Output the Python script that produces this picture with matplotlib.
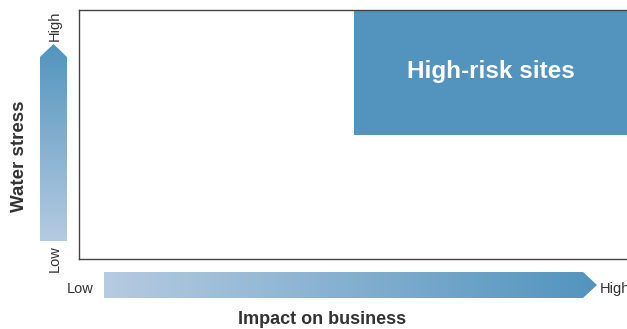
import numpy as np
import matplotlib.pyplot as plt
from matplotlib.patches import Polygon, Rectangle
from matplotlib.colors import LinearSegmentedColormap

plt.rcParams['font.family'] = ['Liberation Sans', 'DejaVu Sans']

# conceptual quadrant: x = impact on business, y = water stress
x_label = 'Impact on business'
y_label = 'Water stress'
axis_ends = ['Low', 'High']
zone_name = 'High-risk sites'
zone_x = [0.5, 1.0]
zone_y = [0.5, 1.0]

light = '#b6cbe1'
dark = '#5294be'
text_col = '#333333'

W, H = 627, 329
fig = plt.figure(figsize=(W / 100, H / 100), dpi=100)

# main quadrant axes (right edge runs just off the canvas)
ax = fig.add_axes([79 / W, (H - 259) / H, 550 / W, 249 / H])
ax.set_xlim(0, 1)
ax.set_ylim(0, 1)
ax.set_xticks([])
ax.set_yticks([])
for s in ax.spines.values():
    s.set_color('#444444')
    s.set_linewidth(1.0)
ax.add_patch(Rectangle((zone_x[0], zone_y[0]), zone_x[1] - zone_x[0], zone_y[1] - zone_y[0],
                       facecolor=dark, edgecolor='none'))
ax.text(0.749, 0.755, zone_name,
        color='white', fontsize=17.5, fontweight='bold', ha='center', va='center')

# overlay in pixel coordinates for the gradient arrows and labels
ov = fig.add_axes([0, 0, 1, 1])
ov.set_xlim(0, W)
ov.set_ylim(H, 0)
ov.axis('off')

cmap = LinearSegmentedColormap.from_list('grad', [light, dark])
grad = np.linspace(0, 1, 256)

# vertical arrow (low at bottom, high at top)
vpoly = Polygon([(40, 241), (40, 57), (53.5, 44), (67, 57), (67, 241)], closed=True,
                facecolor='none', edgecolor='none')
ov.add_patch(vpoly)
im = ov.imshow(grad[::-1].reshape(-1, 1), cmap=cmap, extent=(40, 67, 241, 44),
               aspect='auto', origin='upper')
im.set_clip_path(vpoly)

# horizontal arrow (low at left, high at right)
hpoly = Polygon([(104, 272), (583, 272), (597, 285), (583, 298), (104, 298)], closed=True,
                facecolor='none', edgecolor='none')
ov.add_patch(hpoly)
im2 = ov.imshow(grad.reshape(1, -1), cmap=cmap, extent=(104, 597, 298, 272), aspect='auto')
im2.set_clip_path(hpoly)

ov.set_xlim(0, W)
ov.set_ylim(H, 0)

ov.text(55, 26, axis_ends[1], rotation=90, ha='center', va='center', fontsize=10.5, color=text_col)
ov.text(55, 259, axis_ends[0], rotation=90, ha='center', va='center', fontsize=10.5, color=text_col)
ov.text(20, 156, y_label, rotation=90, ha='center', va='center', fontsize=13.5,
        fontweight='bold', color=text_col)
ov.text(80, 289, axis_ends[0], ha='center', va='center', fontsize=10.5, color=text_col)
ov.text(600, 289, axis_ends[1], ha='left', va='center', fontsize=10.5, color=text_col)
ov.text(322, 320, x_label, ha='center', va='center', fontsize=13,
        fontweight='bold', color=text_col)

fig.savefig('out.png', dpi=100)
